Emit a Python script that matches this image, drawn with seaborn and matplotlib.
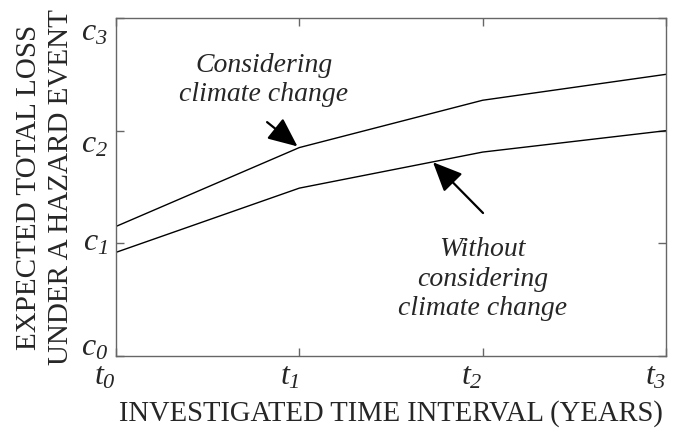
import matplotlib
matplotlib.use("Agg")
import matplotlib.pyplot as plt
import seaborn as sns
import pandas as pd

# ---- data ----
time_points = [0, 1, 2, 3]
with_climate = [1.15, 1.85, 2.27, 2.50]
without_climate = [0.92, 1.49, 1.81, 2.00]
x_tick_labels = [r"$t_0$", r"$t_1$", r"$t_2$", r"$t_3$"]
y_tick_values = [0, 1, 2, 3]
y_tick_labels = [r"$c_0$", r"$c_1$", r"$c_2$", r"$c_3$"]

df = pd.DataFrame({
    "t": time_points * 2,
    "loss": with_climate + without_climate,
    "series": ["Considering climate change"] * 4 + ["Without considering climate change"] * 4,
})

sns.set_style("ticks")
plt.rcParams["font.family"] = ["Liberation Serif", "DejaVu Serif"]
plt.rcParams["mathtext.fontset"] = "custom"
plt.rcParams["mathtext.rm"] = "Liberation Serif:italic"
plt.rcParams["mathtext.it"] = "Liberation Serif:italic"
plt.rcParams["mathtext.default"] = "it"

fig = plt.figure(figsize=(6.74, 4.37), dpi=100)
ax = fig.add_axes([116 / 674, 1 - 356 / 437, 550 / 674, 338 / 437])

sns.lineplot(data=df, x="t", y="loss", hue="series", palette=["black", "black"],
             linewidth=1.0, legend=False, ax=ax)

ax.set_xlim(0, 3)
ax.set_ylim(0, 3)
ax.set_xticks(time_points)
ax.set_xticklabels(x_tick_labels, fontsize=23, ha="right")
ax.set_yticks(y_tick_values)
ax.set_yticklabels(y_tick_labels, fontsize=23)

# vertical alignment of the c-labels as in the reference
for lab, va in zip(ax.get_yticklabels(), ["baseline", "center", "top", "top"]):
    lab.set_verticalalignment(va)

for s in ax.spines.values():
    s.set_visible(True)
    s.set_color("#666666")
    s.set_linewidth(1.0)
ax.tick_params(direction="in", length=6, width=1, color="#666666",
               top=True, right=True, pad=6)
ax.tick_params(axis="x", pad=5)

ax.set_xlabel("INVESTIGATED TIME INTERVAL (YEARS)", fontsize=20.6, labelpad=6)
ax.set_ylabel("EXPECTED TOTAL LOSS\nUNDER A HAZARD EVENT", fontsize=21,
              labelpad=5, linespacing=1.3)

arrow = dict(arrowstyle="-|>,head_length=0.9,head_width=0.4", color="black",
             lw=1.6, shrinkA=0, shrinkB=0, mutation_scale=20)
ax.annotate("", xy=(0.99, 1.86), xytext=(0.824, 2.076), arrowprops=arrow)
ax.annotate("", xy=(1.729, 1.72), xytext=(2.002, 1.269), arrowprops=arrow)

ax.text(0.807, 2.45, "Considering\nclimate change", fontsize=20, style="italic",
        ha="center", va="center", linespacing=1.25)
ax.text(2.0, 0.683, "Without\nconsidering\nclimate change", fontsize=20, style="italic",
        ha="center", va="center", linespacing=1.25)

fig.savefig("out.png", dpi=100)
